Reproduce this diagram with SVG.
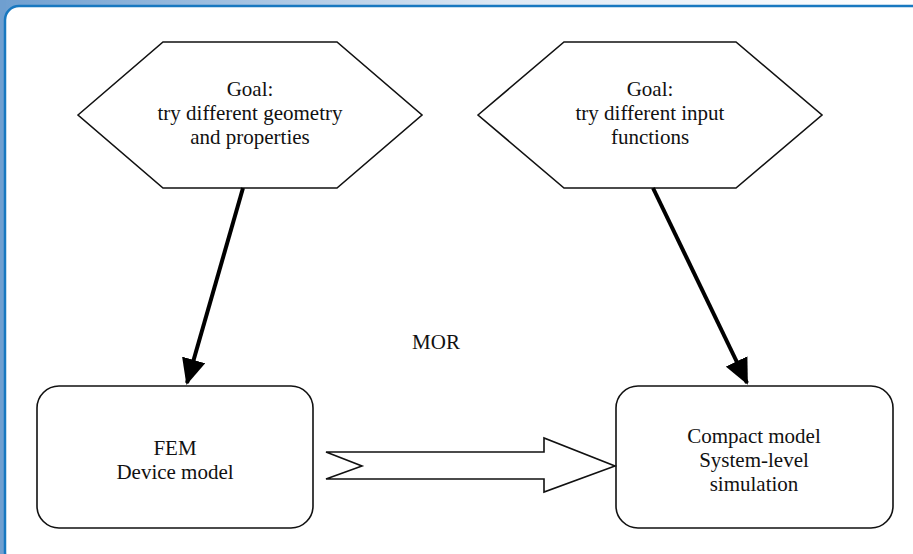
<svg xmlns="http://www.w3.org/2000/svg" width="913" height="554" viewBox="0 0 913 554">
  <defs>
    <linearGradient id="bg" x1="0" y1="0" x2="1" y2="0">
      <stop offset="0" stop-color="#6f9fd0"/>
      <stop offset="0.55" stop-color="#dfe9f4"/>
      <stop offset="1" stop-color="#ffffff"/>
    </linearGradient>
    <marker id="ah" markerWidth="6.5" markerHeight="6" refX="6" refY="3" orient="auto" markerUnits="strokeWidth">
      <path d="M0,0 L6.5,3 L0,6 Z" fill="#000"/>
    </marker>
    <style>
      .shape { fill: #fff; stroke: #111; stroke-width: 1.6; }
      .lbl { font-family: "Liberation Serif", "Times New Roman", serif; font-size: 21px; fill: #111; text-anchor: middle; }
      .conn { stroke: #000; stroke-width: 4; fill: none; }
    </style>
  </defs>
  <rect x="0" y="0" width="913" height="554" fill="url(#bg)"/>
  <rect x="0" y="0" width="6" height="554" fill="#6f9fd0"/>
  <rect x="5" y="6" width="930" height="560" rx="14" ry="14" fill="#fff" stroke="#1878c0" stroke-width="2.5"/>

  <g id="goal-left">
    <polygon class="shape" points="78,115 163,42 337,42 422,115 337,188 163,188"/>
    <text class="lbl" x="250" y="96">Goal:</text>
    <text class="lbl" x="250" y="120">try different geometry</text>
    <text class="lbl" x="250" y="144">and properties</text>
  </g>

  <g id="goal-right">
    <polygon class="shape" points="478,115 564,42 736,42 822,115 736,188 564,188"/>
    <text class="lbl" x="650" y="96">Goal:</text>
    <text class="lbl" x="650" y="120">try different input</text>
    <text class="lbl" x="650" y="144">functions</text>
  </g>

  <g id="fem">
    <rect class="shape" x="37" y="386" width="276" height="142" rx="22" ry="22"/>
    <text class="lbl" x="175" y="455">FEM</text>
    <text class="lbl" x="175" y="479">Device model</text>
  </g>

  <g id="compact">
    <rect class="shape" x="616" y="386" width="277" height="142" rx="22" ry="22"/>
    <text class="lbl" x="754" y="443">Compact model</text>
    <text class="lbl" x="754" y="467">System-level</text>
    <text class="lbl" x="754" y="491">simulation</text>
  </g>

  <g id="connectors">
    <line class="conn" x1="243" y1="188" x2="187" y2="383" marker-end="url(#ah)"/>
    <line class="conn" x1="653" y1="188" x2="747" y2="383" marker-end="url(#ah)"/>
    <polygon class="shape" points="326,452 544,452 544,438 615,466 544,492 544,479 326,479 362,466"/>
    <text class="lbl" x="436" y="349">MOR</text>
  </g>
</svg>
